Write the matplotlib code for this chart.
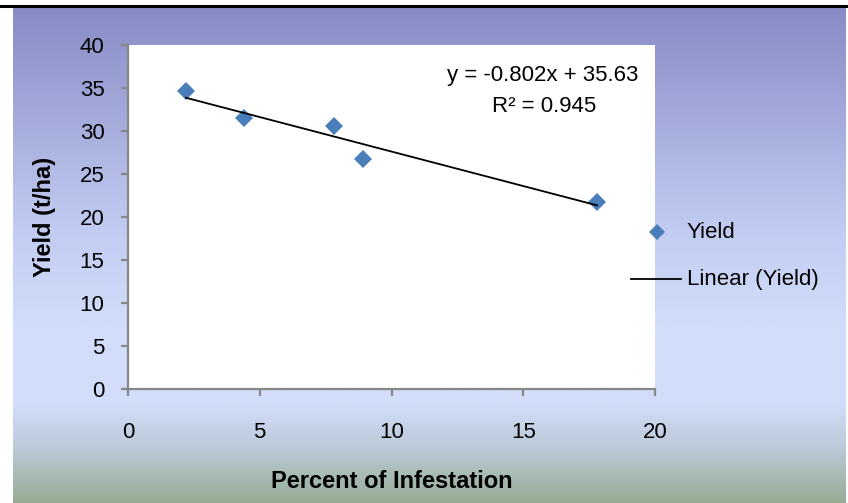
import numpy as np
import matplotlib
matplotlib.use("Agg")
import matplotlib.pyplot as plt
from matplotlib.lines import Line2D
from matplotlib.colors import LinearSegmentedColormap
from matplotlib import font_manager

# Narrow sans if available, otherwise a regular sans
names = {f.name for f in font_manager.fontManager.ttflist}
family = ["Liberation Sans Narrow", "DejaVu Sans"] if "Liberation Sans Narrow" in names else ["Liberation Sans", "DejaVu Sans"]
plt.rcParams["font.family"] = family

# Data
infestation = [2.2, 4.4, 7.8, 8.9, 17.8]
yield_tha = [34.6, 31.5, 30.6, 26.7, 21.7]
slope = -0.802
intercept = 35.63
r_squared = 0.945
x_ticks = [0, 5, 10, 15, 20]
y_ticks = [0, 5, 10, 15, 20, 25, 30, 35, 40]

W, H = 848, 503
fig = plt.figure(figsize=(W / 100, H / 100), dpi=100)
fig.patch.set_facecolor("white")

def fx(px):
    return px / W

def fy(py):
    return 1 - py / H

# Chart-area gradient background
bg = fig.add_axes([fx(13), 0, fx(846) - fx(13), fy(7)])
stops = [(0.0, "#878bc5"), (0.45, "#c2ccf2"), (0.64, "#d2ddfa"),
         (0.80, "#d2ddf9"), (0.89, "#bccad9"), (1.0, "#96ac94")]
cmap = LinearSegmentedColormap.from_list("bg", stops)
grad = np.linspace(0, 1, 512).reshape(-1, 1)
bg.imshow(grad, aspect="auto", cmap=cmap, extent=[0, 1, 0, 1], origin="upper")
bg.set_axis_off()

# Top border line
fig.add_artist(Line2D([0, fx(846)], [fy(6), fy(6)], color="black", lw=2.2,
                      transform=fig.transFigure))

# Plot area
ax = fig.add_axes([fx(128), fy(389), fx(655) - fx(128), fy(45) - fy(389)])
ax.set_facecolor("white")
ax.set_xlim(0, 20)
ax.set_ylim(0, 40)
ax.set_xticks(x_ticks)
ax.set_yticks(y_ticks)
for s in ["top", "right"]:
    ax.spines[s].set_visible(False)
for s in ["left", "bottom"]:
    ax.spines[s].set_color("#878787")
    ax.spines[s].set_linewidth(1.6)
ax.tick_params(axis="both", colors="#878787", width=1.6, length=5,
               labelcolor="black", labelsize=16)
ax.tick_params(axis="x", pad=19)
ax.tick_params(axis="y", pad=12)

blue = "#4a7ebb"
ax.plot(infestation, yield_tha, linestyle="none", marker="D", ms=9.5,
        color=blue, mew=0, zorder=3)

xs = np.array([min(infestation), max(infestation)])
ax.plot(xs, slope * xs + intercept, color="black", lw=1.3, zorder=4)

ax.text(0.787, 0.91, f"y = {slope}x + {intercept}", transform=ax.transAxes,
        ha="center", va="center", fontsize=16)
ax.text(0.79, 0.82, f"R² = {r_squared}", transform=ax.transAxes,
        ha="center", va="center", fontsize=16)

ax.set_xlabel("Percent of Infestation", fontsize=17, fontweight="bold", labelpad=19)
ax.set_ylabel("Yield (t/ha)", fontsize=17, fontweight="bold", labelpad=17)

# Legend
fig.add_artist(Line2D([fx(657)], [fy(232)], marker="D", ms=8.5, color=blue, mew=0,
                      linestyle="none", transform=fig.transFigure))
fig.text(fx(687), fy(232), "Yield", ha="left", va="center", fontsize=16)
fig.add_artist(Line2D([fx(631), fx(681)], [fy(279), fy(279)], color="black", lw=1.3,
                      transform=fig.transFigure))
fig.text(fx(687), fy(279), "Linear (Yield)", ha="left", va="center", fontsize=16)

fig.savefig("out.png", dpi=100)
